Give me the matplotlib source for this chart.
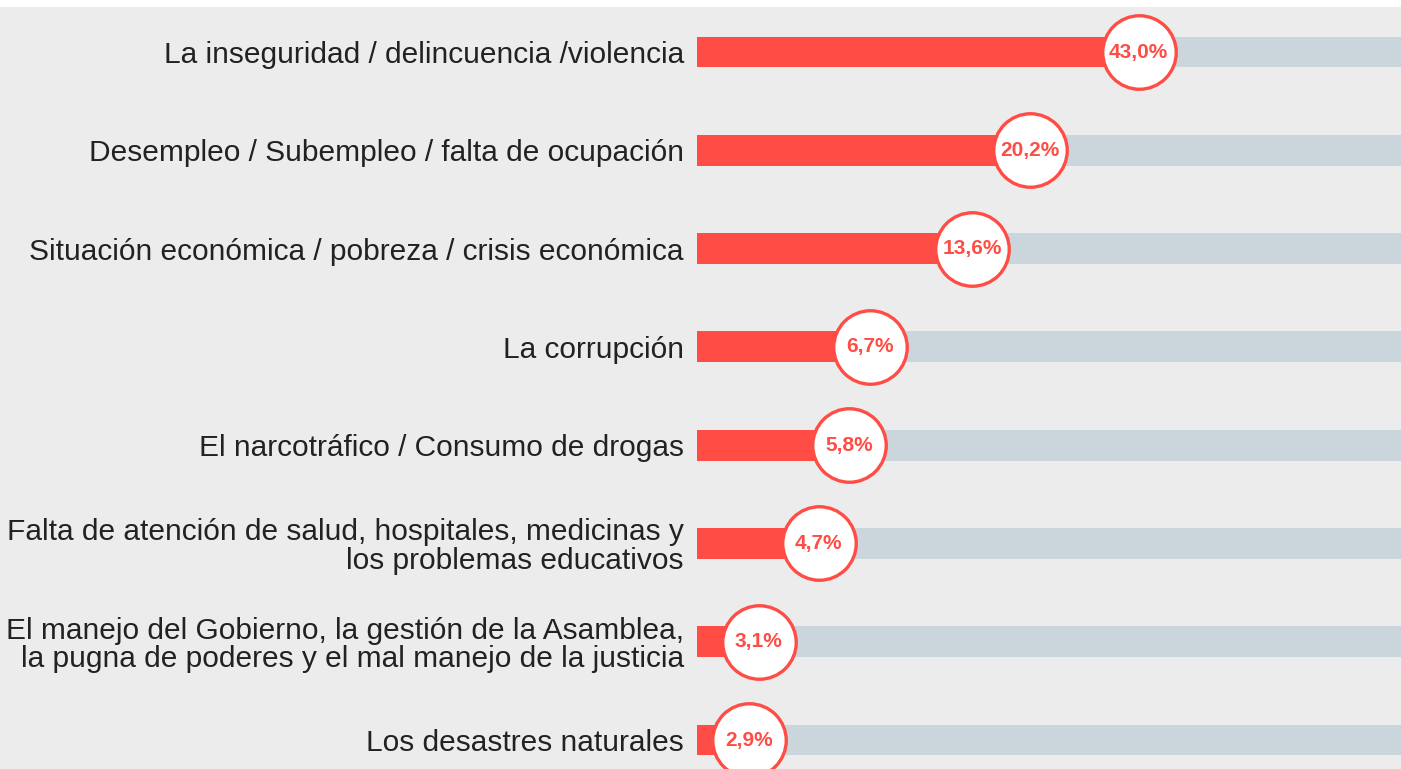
import matplotlib
matplotlib.use("Agg")
import matplotlib.pyplot as plt
import numpy as np

categories = [
    "La inseguridad / delincuencia /violencia",
    "Desempleo / Subempleo / falta de ocupación",
    "Situación económica / pobreza / crisis económica",
    "La corrupción",
    "El narcotráfico / Consumo de drogas",
    "Falta de atención de salud, hospitales, medicinas y\nlos problemas educativos",
    "El manejo del Gobierno, la gestión de la Asamblea,\nla pugna de poderes y el mal manejo de la justicia",
    "Los desastres naturales",
]
values = [43.0, 20.2, 13.6, 6.7, 5.8, 4.7, 3.1, 2.9]
value_labels = ["43,0%", "20,2%", "13,6%", "6,7%", "5,8%", "4,7%", "3,1%", "2,9%"]

RED = "#ff4c44"
TRACK = "#cbd5dc"
BG = "#ececec"
TEXT = "#222222"

W, H = 1401, 769
fig = plt.figure(figsize=(W / 100, H / 100), dpi=100)
fig.patch.set_facecolor("white")
# grey panel below the thin white top strip
fig.add_artist(plt.Rectangle((0, 0), 1, (H - 7) / H, transform=fig.transFigure,
                             facecolor=BG, edgecolor="none", zorder=0))

ax = fig.add_axes([697 / W, 0, 1 - 697 / W, (H - 7) / H])
ax.set_facecolor("none")
ax.set_xscale("log")
xmin, xmax = 2.024, 264.0
ax.set_xlim(xmin, xmax)
ax.set_ylim(7.295, -0.458)

y = np.arange(len(categories))
ax.barh(y, xmax - xmin, left=xmin, height=0.315, color=TRACK, zorder=1)
ax.barh(y, np.array(values) - xmin, left=xmin, height=0.315, color=RED, zorder=2)
ax.scatter(values, y, s=2800, facecolor="white", edgecolor=RED, linewidth=2.4, zorder=3)
for v, yy, lab in zip(values, y, value_labels):
    ax.text(v, yy, lab, ha="center", va="center", color=RED, fontsize=15,
            fontweight="bold", family="Liberation Sans", zorder=4)

ax.set_yticks(y)
ax.set_yticklabels(categories, fontsize=21.5, color=TEXT, family="Liberation Sans",
                   linespacing=1.02)
ax.tick_params(axis="y", length=0, pad=9.5)
ax.set_xticks([])
ax.minorticks_off()
ax.tick_params(axis="x", which="both", bottom=False, labelbottom=False)
for s in ax.spines.values():
    s.set_visible(False)

fig.savefig("out.png", dpi=100, facecolor=fig.get_facecolor())
